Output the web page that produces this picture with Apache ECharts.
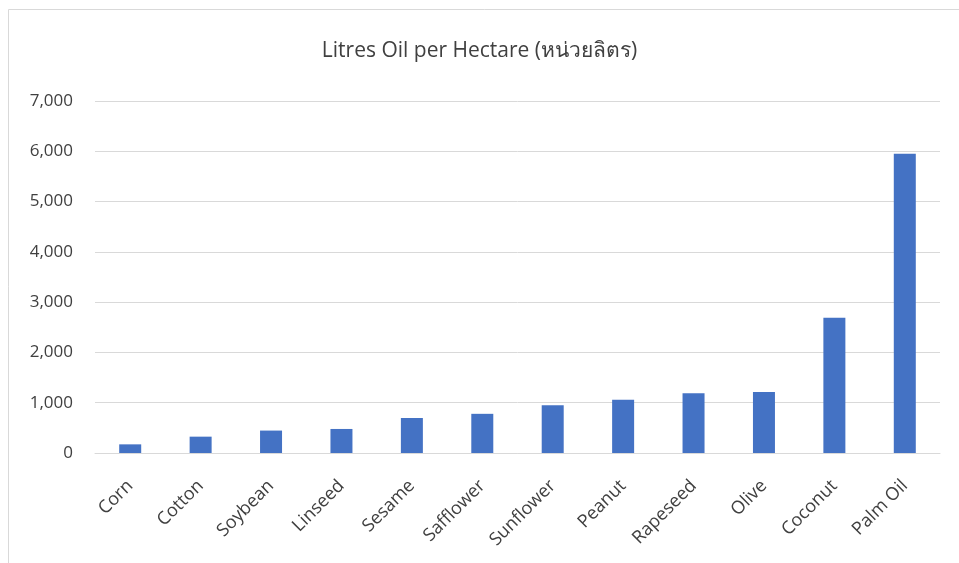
<!DOCTYPE html>
<html>
<head>
    <meta charset="utf-8">
    <title>Litres Oil per Hectare</title>
    <script src="https://cdn.jsdelivr.net/npm/echarts@6/dist/echarts.min.js"></script>
    <style>
        html, body { margin: 0; padding: 0; background: #fff; }
        #chart1 { width: 959px; height: 563px; }
    </style>
</head>
<body>
<div id="chart1"></div>
<script type="text/javascript">
    // 数据
    var crops = ['Corn', 'Cotton', 'Soybean', 'Linseed', 'Sesame', 'Safflower',
        'Sunflower', 'Peanut', 'Rapeseed', 'Olive', 'Coconut', 'Palm Oil'];
    var litres = [172, 325, 446, 478, 696, 779, 952, 1059, 1190, 1212, 2689, 5950];
    var yTicks = [0, 1000, 2000, 3000, 4000, 5000, 6000, 7000];

    var myChart1 = echarts.init(document.getElementById('chart1'));
    var font = '"Segoe UI", "Open Sans", "Noto Sans", "DejaVu Sans", sans-serif';

    myChart1.setOption({
        animation: false,
        title: {
            text: 'Litres Oil per Hectare (หน่วยลิตร)',
            left: 'center',
            top: 36,
            textStyle: {
                color: '#404040',
                fontSize: 21,
                fontWeight: 'normal',
                fontFamily: font
            }
        },
        graphic: [{
            // chart border
            type: 'rect',
            shape: { x: 8.5, y: 9.5, width: 960, height: 560 },
            style: { fill: 'none', stroke: '#d9d9d9', lineWidth: 1 },
            silent: true
        }],
        grid: {
            left: 95,
            right: 19,
            top: 101,
            bottom: 110
        },
        xAxis: {
            type: 'category',
            data: crops,
            axisTick: { show: false },
            axisLine: { lineStyle: { color: '#d9d9d9', width: 1 } },
            axisLabel: {
                rotate: 45,
                margin: 30,
                color: '#404040',
                fontSize: 18,
                fontFamily: font
            }
        },
        yAxis: {
            type: 'value',
            min: yTicks[0],
            max: yTicks[yTicks.length - 1],
            interval: 1000,
            axisLine: { show: false },
            axisTick: { show: false },
            splitLine: { lineStyle: { color: '#d9d9d9', width: 1 } },
            axisLabel: {
                margin: 22,
                color: '#404040',
                fontSize: 17,
                fontFamily: font,
                formatter: function (v) { return v.toLocaleString('en-US'); }
            }
        },
        series: [{
            name: 'Litres Oil per Hectare',
            type: 'bar',
            data: litres,
            barWidth: 22,
            itemStyle: { color: '#4472c4' }
        }]
    });
</script>
</body>
</html>
